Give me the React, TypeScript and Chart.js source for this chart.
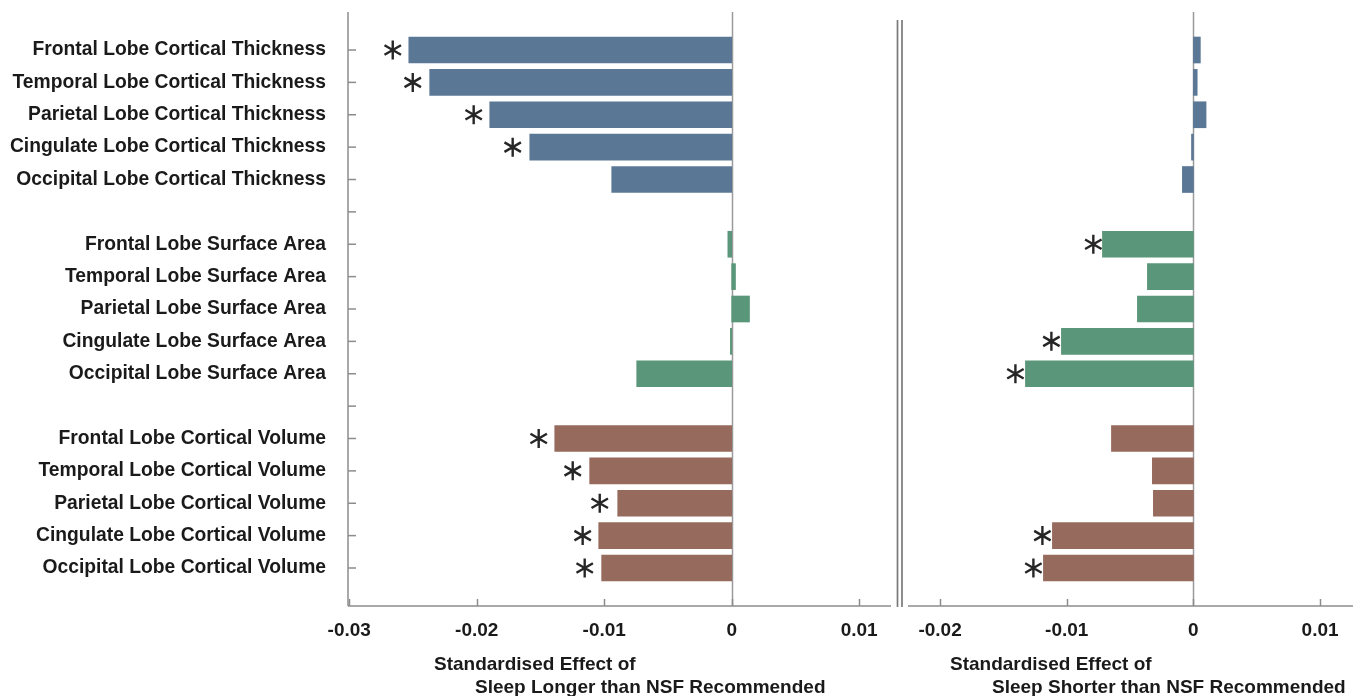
import React, { useEffect, useRef } from "react";
import { Chart, registerables } from "chart.js";

Chart.register(...registerables);

// ---------- data ----------
const rowLabels: string[] = [
  "Frontal Lobe Cortical Thickness",
  "Temporal Lobe Cortical Thickness",
  "Parietal Lobe Cortical Thickness",
  "Cingulate Lobe Cortical Thickness",
  "Occipital Lobe Cortical Thickness",
  "",
  "Frontal Lobe Surface Area",
  "Temporal Lobe Surface Area",
  "Parietal Lobe Surface Area",
  "Cingulate Lobe Surface Area",
  "Occipital Lobe Surface Area",
  "",
  "Frontal Lobe Cortical Volume",
  "Temporal Lobe Cortical Volume",
  "Parietal Lobe Cortical Volume",
  "Cingulate Lobe Cortical Volume",
  "Occipital Lobe Cortical Volume",
];

const groupRows: number[][] = [
  [0, 1, 2, 3, 4],
  [6, 7, 8, 9, 10],
  [12, 13, 14, 15, 16],
];
const groupColors = ["#5a7896", "#5a9679", "#966a5c"];

// Sleep longer than NSF recommended
const longerThickness = [-0.02533, -0.02369, -0.01898, -0.01584, -0.00941];
const longerSurface = [-0.0003, 0.0003, 0.0014, -0.0001, -0.00745];
const longerVolume = [-0.01388, -0.01114, -0.00894, -0.01043, -0.0102];
const longerThicknessStar = [-0.02659, -0.02502, -0.02024, -0.01718, null];
const longerSurfaceStar = [null, null, null, null, null];
const longerVolumeStar = [-0.01514, -0.01247, -0.01035, -0.01169, -0.01153];

// Sleep shorter than NSF recommended
const shorterThickness = [0.00055, 0.0003, 0.001, -0.00015, -0.00087];
const shorterSurface = [-0.00718, -0.00363, -0.00442, -0.01042, -0.01326];
const shorterVolume = [-0.00647, -0.00324, -0.00316, -0.01113, -0.01184];
const shorterThicknessStar = [null, null, null, null, null];
const shorterSurfaceStar = [-0.0079, null, null, -0.01121, -0.01405];
const shorterVolumeStar = [null, null, null, -0.01192, -0.01263];

const leftTicks = [-0.03, -0.02, -0.01, 0, 0.01];
const rightTicks = [-0.02, -0.01, 0, 0.01];

const titleLine1 = "Standardised Effect of";
const leftTitleLine2 = "Sleep Longer than NSF Recommended";
const rightTitleLine2 = "Sleep Shorter than NSF Recommended";

// ---------- helpers ----------
const FONT = "'Liberation Sans', Arial, Helvetica, sans-serif";
const TEXT = "#1a1a1a";
const AXIS = "#8c8c8c";

type Pt = { x: number; y: number };

function buildBars(groups: number[][]) {
  const data: Pt[] = [];
  const colors: string[] = [];
  groups.forEach((vals, g) => {
    vals.forEach((v, j) => {
      data.push({ x: v, y: groupRows[g][j] });
      colors.push(groupColors[g]);
    });
  });
  return { data, colors };
}

function buildStars(groups: (number | null)[][]) {
  const out: Pt[] = [];
  groups.forEach((vals, g) => {
    vals.forEach((v, j) => {
      if (v !== null) out.push({ x: v, y: groupRows[g][j] });
    });
  });
  return out;
}

function drawAsterisk(ctx: CanvasRenderingContext2D, x: number, y: number, r: number) {
  ctx.beginPath();
  for (const a of [90, 30, -30]) {
    const rad = (a * Math.PI) / 180;
    const dx = r * Math.cos(rad);
    const dy = r * Math.sin(rad);
    ctx.moveTo(x - dx, y - dy);
    ctx.lineTo(x + dx, y + dy);
  }
  ctx.stroke();
}

type PanelOpts = {
  stars: Pt[];
  titleX1: number;
  titleX2: number;
  line2: string;
  yAxisLine: boolean;
  doubleLine: boolean;
};

function makePlugin(p: PanelOpts) {
  return {
    id: "panelDecor",
    beforeDatasetsDraw(chart: any) {
      const { ctx, chartArea } = chart;
      const xs = chart.scales.x;
      ctx.save();
      ctx.strokeStyle = "#9a9a9a";
      ctx.lineWidth = 1.5;
      const x0 = Math.round(xs.getPixelForValue(0)) + 0.5;
      ctx.beginPath();
      ctx.moveTo(x0, chartArea.top);
      ctx.lineTo(x0, chartArea.bottom);
      ctx.stroke();
      ctx.restore();
    },
    afterDatasetsDraw(chart: any) {
      const { ctx, chartArea } = chart;
      const xs = chart.scales.x;
      const ys = chart.scales.y;
      ctx.save();
      ctx.strokeStyle = AXIS;
      ctx.lineWidth = 1.5;
      const b = chartArea.bottom;
      // bottom axis line
      ctx.beginPath();
      ctx.moveTo(chartArea.left, b);
      ctx.lineTo(chartArea.right, b);
      ctx.stroke();
      // x ticks (inward)
      for (const t of xs.ticks) {
        const px = Math.round(xs.getPixelForValue(t.value)) + 0.5;
        ctx.beginPath();
        ctx.moveTo(px, b);
        ctx.lineTo(px, b - 7);
        ctx.stroke();
      }
      if (p.yAxisLine) {
        const l = chartArea.left;
        ctx.beginPath();
        ctx.moveTo(l, chartArea.top);
        ctx.lineTo(l, b);
        ctx.stroke();
        for (let i = 0; i < rowLabels.length; i++) {
          const py = ys.getPixelForValue(i);
          ctx.beginPath();
          ctx.moveTo(l, py);
          ctx.lineTo(l + 8, py);
          ctx.stroke();
        }
      }
      if (p.doubleLine) {
        ctx.strokeStyle = "#7a7a7a";
        ctx.lineWidth = 1.7;
        for (const dx of [1.5, 6]) {
          ctx.beginPath();
          ctx.moveTo(dx, 20);
          ctx.lineTo(dx, b + 1);
          ctx.stroke();
        }
      }
      // asterisks
      ctx.strokeStyle = "#262626";
      ctx.lineWidth = 2.4;
      ctx.lineCap = "butt";
      for (const s of p.stars) {
        drawAsterisk(ctx, xs.getPixelForValue(s.x), ys.getPixelForValue(s.y), 9.5);
      }
      // axis title
      ctx.fillStyle = TEXT;
      ctx.font = `bold 19px ${FONT}`;
      ctx.textBaseline = "middle";
      ctx.textAlign = "left";
      ctx.fillText(titleLine1, p.titleX1, 665);
      ctx.fillText(p.line2, p.titleX2, 688);
      ctx.restore();
    },
  };
}

const Y_MIN = -1.174;
const Y_MAX = 17.174;

function makeConfig(
  bars: { data: Pt[]; colors: string[] },
  xMin: number,
  xMax: number,
  ticks: number[],
  showLabels: boolean,
  padding: any,
  plugin: any
): any {
  return {
    type: "bar",
    data: {
      datasets: [
        {
          data: bars.data,
          backgroundColor: bars.colors,
          borderWidth: 0,
          barThickness: 26,
          grouped: false,
        },
      ],
    },
    options: {
      indexAxis: "y",
      animation: false,
      responsive: false,
      events: [],
      layout: { padding },
      plugins: { legend: { display: false }, tooltip: { enabled: false } },
      scales: {
        x: {
          type: "linear",
          min: xMin,
          max: xMax,
          offset: false,
          afterBuildTicks: (s: any) => {
            s.ticks = ticks.map((v) => ({ value: v }));
          },
          afterFit: (s: any) => {
            s.height = 90;
            s.paddingLeft = 0;
            s.paddingRight = 0;
          },
          grid: { display: false, drawTicks: false, offset: false },
          border: { display: false },
          ticks: {
            padding: 13,
            autoSkip: false,
            maxRotation: 0,
            color: TEXT,
            font: { family: FONT, size: 19, weight: "bold" },
            callback: (v: number) => (Math.abs(v) < 1e-9 ? "0" : v.toFixed(2)),
          },
        },
        y: {
          type: "linear",
          reverse: true,
          min: Y_MIN,
          max: Y_MAX,
          offset: false,
          display: showLabels,
          afterBuildTicks: (s: any) => {
            s.ticks = rowLabels.map((_, i) => ({ value: i }));
          },
          afterFit: (s: any) => {
            s.width = showLabels ? 348 : 0;
            s.paddingTop = 0;
            s.paddingBottom = 0;
          },
          grid: { display: false, drawTicks: false, offset: false },
          border: { display: false },
          ticks: {
            padding: 22,
            autoSkip: false,
            color: TEXT,
            font: { family: FONT, size: 19.3, weight: "bold" },
            callback: (v: number) => rowLabels[v] ?? "",
          },
        },
      },
    },
    plugins: [plugin],
  };
}

export default function App() {
  const leftRef = useRef<HTMLCanvasElement>(null);
  const rightRef = useRef<HTMLCanvasElement>(null);

  useEffect(() => {
    const leftBars = buildBars([longerThickness, longerSurface, longerVolume]);
    const rightBars = buildBars([shorterThickness, shorterSurface, shorterVolume]);
    const leftStars = buildStars([longerThicknessStar, longerSurfaceStar, longerVolumeStar]);
    const rightStars = buildStars([shorterThicknessStar, shorterSurfaceStar, shorterVolumeStar]);

    const left = new Chart(
      leftRef.current!,
      makeConfig(
        leftBars,
        -0.0301,
        0.0125,
        leftTicks,
        true,
        { top: 12, right: 5, left: 0, bottom: 0 },
        makePlugin({
          stars: leftStars,
          titleX1: 434,
          titleX2: 475,
          line2: leftTitleLine2,
          yAxisLine: true,
          doubleLine: false,
        })
      )
    );
    const right = new Chart(
      rightRef.current!,
      makeConfig(
        rightBars,
        -0.02253,
        0.0126,
        rightTicks,
        false,
        { top: 12, right: 14, left: 12, bottom: 0 },
        makePlugin({
          stars: rightStars,
          titleX1: 54,
          titleX2: 96,
          line2: rightTitleLine2,
          yAxisLine: false,
          doubleLine: true,
        })
      )
    );
    return () => {
      left.destroy();
      right.destroy();
    };
  }, []);

  return (
    <div
      style={{
        position: "fixed",
        left: 0,
        top: 0,
        width: 1367,
        height: 696,
        background: "#ffffff",
        overflow: "hidden",
      }}
    >
      <canvas
        ref={leftRef}
        width={896}
        height={696}
        style={{ position: "absolute", left: 0, top: 0, width: 896, height: 696 }}
      />
      <canvas
        ref={rightRef}
        width={471}
        height={696}
        style={{ position: "absolute", left: 896, top: 0, width: 471, height: 696 }}
      />
    </div>
  );
}
